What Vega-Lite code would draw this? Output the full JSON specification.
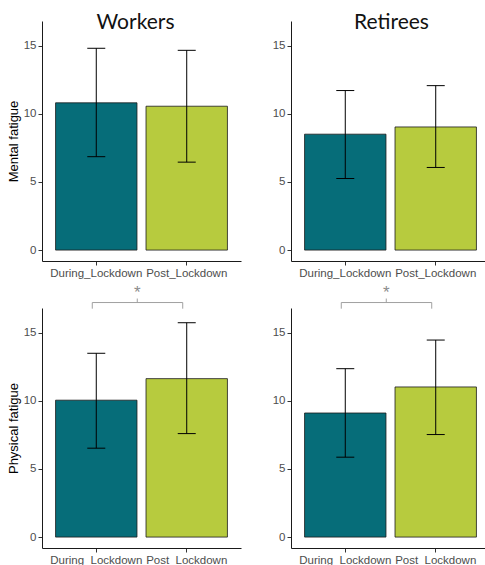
{
  "$schema": "https://vega.github.io/schema/vega-lite/v6.json",
  "padding": {"left": 7, "top": 12, "right": 0, "bottom": 0},
  "background": "white",
  "datasets": {
    "bars": [
      {"group": "Workers", "measure": "Mental", "phase": "During_Lockdown", "mean": 10.8, "lo": 6.85, "hi": 14.8},
      {"group": "Workers", "measure": "Mental", "phase": "Post_Lockdown", "mean": 10.55, "lo": 6.45, "hi": 14.65},
      {"group": "Retirees", "measure": "Mental", "phase": "During_Lockdown", "mean": 8.5, "lo": 5.25, "hi": 11.7},
      {"group": "Retirees", "measure": "Mental", "phase": "Post_Lockdown", "mean": 9.03, "lo": 6.06, "hi": 12.06},
      {"group": "Workers", "measure": "Physical", "phase": "During_Lockdown", "mean": 10.04, "lo": 6.52, "hi": 13.48},
      {"group": "Workers", "measure": "Physical", "phase": "Post_Lockdown", "mean": 11.62, "lo": 7.59, "hi": 15.72},
      {"group": "Retirees", "measure": "Physical", "phase": "During_Lockdown", "mean": 9.1, "lo": 5.86, "hi": 12.35},
      {"group": "Retirees", "measure": "Physical", "phase": "Post_Lockdown", "mean": 11.01, "lo": 7.52, "hi": 14.45}
    ],
    "sig": [
      {"group": "Workers", "measure": "Physical", "from": "During_Lockdown", "to": "Post_Lockdown", "level": 17.2, "base": 16.75, "label": "*"},
      {"group": "Retirees", "measure": "Physical", "from": "During_Lockdown", "to": "Post_Lockdown", "level": 17.2, "base": 16.75, "label": "*"}
    ]
  },
  "config": {
    "view": {"stroke": null},
    "font": "Liberation Sans",
    "axis": {
      "grid": false,
      "domainColor": "#1a1a1a",
      "domainWidth": 1,
      "tickColor": "#333333",
      "tickSize": 4,
      "labelColor": "#4d4d4d",
      "labelFont": "Liberation Sans",
      "labelFontSize": 11.5,
      "labelPadding": 2,
      "titleFont": "Liberation Sans",
      "titleFontSize": 13,
      "titleFontWeight": "normal",
      "titleColor": "#000000",
      "titlePadding": 3
    },
    "title": {"font": "Lato", "fontSize": 21, "fontWeight": "normal", "color": "#111111", "anchor": "middle", "baseline": "alphabetic", "offset": -12}
  },
  "columns": 2,
  "spacing": {"row": 47, "column": 50},
  "bounds": "flush",
  "concat": [
    {
      "width": 199, "height": 240,
      "title": {"text": "Workers", "dx": -6},
      "layer": [
        {
          "data": {"name": "bars"},
          "transform": [{"filter": "datum.group == 'Workers' && datum.measure == 'Mental'"}],
          "encoding": {
            "x": {"field": "phase", "type": "nominal", "scale": {"paddingInner": 0.1, "paddingOuter": 0.15}, "axis": {"title": null, "labelAngle": 0}},
            "y": {"type": "quantitative", "scale": {"domain": [-0.8, 16.8], "nice": false, "zero": false}, "axis": {"title": "Mental fatigue", "values": [0, 5, 10, 15]}}
          },
          "layer": [
            {"mark": {"type": "bar", "stroke": "#1a1a1a", "strokeWidth": 0.8}, "encoding": {"y": {"field": "mean", "type": "quantitative"}, "y2": {"datum": 0}, "color": {"field": "phase", "type": "nominal", "scale": {"domain": ["During_Lockdown", "Post_Lockdown"], "range": ["#066d79", "#b7cb3e"]}, "legend": null}}},
            {"mark": {"type": "rule", "color": "black", "strokeWidth": 1}, "encoding": {"y": {"field": "lo", "type": "quantitative"}, "y2": {"field": "hi"}}},
            {"mark": {"type": "tick", "color": "black", "size": 18, "thickness": 1, "opacity": 1}, "encoding": {"y": {"field": "lo", "type": "quantitative"}}},
            {"mark": {"type": "tick", "color": "black", "size": 18, "thickness": 1, "opacity": 1}, "encoding": {"y": {"field": "hi", "type": "quantitative"}}}
          ]
        }
      ]
    },
    {
      "width": 199, "height": 240,
      "title": {"text": "Retirees", "dx": 1},
      "layer": [
        {
          "data": {"name": "bars"},
          "transform": [{"filter": "datum.group == 'Retirees' && datum.measure == 'Mental'"}],
          "encoding": {
            "x": {"field": "phase", "type": "nominal", "scale": {"paddingInner": 0.1, "paddingOuter": 0.15}, "axis": {"title": null, "labelAngle": 0}},
            "y": {"type": "quantitative", "scale": {"domain": [-0.8, 16.8], "nice": false, "zero": false}, "axis": {"title": null, "values": [0, 5, 10, 15]}}
          },
          "layer": [
            {"mark": {"type": "bar", "stroke": "#1a1a1a", "strokeWidth": 0.8}, "encoding": {"y": {"field": "mean", "type": "quantitative"}, "y2": {"datum": 0}, "color": {"field": "phase", "type": "nominal", "scale": {"domain": ["During_Lockdown", "Post_Lockdown"], "range": ["#066d79", "#b7cb3e"]}, "legend": null}}},
            {"mark": {"type": "rule", "color": "black", "strokeWidth": 1}, "encoding": {"y": {"field": "lo", "type": "quantitative"}, "y2": {"field": "hi"}}},
            {"mark": {"type": "tick", "color": "black", "size": 18, "thickness": 1, "opacity": 1}, "encoding": {"y": {"field": "lo", "type": "quantitative"}}},
            {"mark": {"type": "tick", "color": "black", "size": 18, "thickness": 1, "opacity": 1}, "encoding": {"y": {"field": "hi", "type": "quantitative"}}}
          ]
        }
      ]
    },
    {
      "width": 199, "height": 240,
      "layer": [
        {
          "data": {"name": "bars"},
          "transform": [{"filter": "datum.group == 'Workers' && datum.measure == 'Physical'"}],
          "encoding": {
            "x": {"field": "phase", "type": "nominal", "scale": {"paddingInner": 0.1, "paddingOuter": 0.15}, "axis": {"title": null, "labelAngle": 0}},
            "y": {"type": "quantitative", "scale": {"domain": [-0.8, 16.8], "nice": false, "zero": false}, "axis": {"title": "Physical fatigue", "values": [0, 5, 10, 15]}}
          },
          "layer": [
            {"mark": {"type": "bar", "stroke": "#1a1a1a", "strokeWidth": 0.8}, "encoding": {"y": {"field": "mean", "type": "quantitative"}, "y2": {"datum": 0}, "color": {"field": "phase", "type": "nominal", "scale": {"domain": ["During_Lockdown", "Post_Lockdown"], "range": ["#066d79", "#b7cb3e"]}, "legend": null}}},
            {"mark": {"type": "rule", "color": "black", "strokeWidth": 1}, "encoding": {"y": {"field": "lo", "type": "quantitative"}, "y2": {"field": "hi"}}},
            {"mark": {"type": "tick", "color": "black", "size": 18, "thickness": 1, "opacity": 1}, "encoding": {"y": {"field": "lo", "type": "quantitative"}}},
            {"mark": {"type": "tick", "color": "black", "size": 18, "thickness": 1, "opacity": 1}, "encoding": {"y": {"field": "hi", "type": "quantitative"}}}
          ]
        },
        {
          "data": {"name": "sig"},
          "transform": [{"filter": "datum.group == 'Workers'"}],
          "layer": [
            {"mark": {"type": "rule", "color": "#a0a0a0", "strokeWidth": 1, "xOffset": -4}, "encoding": {"x": {"field": "from", "type": "nominal"}, "y": {"field": "level", "type": "quantitative"}, "y2": {"field": "base"}}},
            {"mark": {"type": "rule", "color": "#a0a0a0", "strokeWidth": 1, "xOffset": -4}, "encoding": {"x": {"field": "to", "type": "nominal"}, "y": {"field": "level", "type": "quantitative"}, "y2": {"field": "base"}}},
            {"mark": {"type": "rule", "color": "#a0a0a0", "strokeWidth": 1, "xOffset": -4, "x2Offset": -4}, "encoding": {"x": {"field": "from", "type": "nominal"}, "x2": {"field": "to"}, "y": {"field": "level", "type": "quantitative"}}},
            {"mark": {"type": "rule", "color": "#a0a0a0", "strokeWidth": 1, "xOffset": 41, "y2Offset": -4}, "encoding": {"x": {"field": "from", "type": "nominal"}, "y": {"field": "level", "type": "quantitative"}, "y2": {"field": "level"}}},
            {"mark": {"type": "text", "color": "#8c8c8c", "fontSize": 17, "font": "Liberation Sans", "xOffset": 41, "baseline": "alphabetic", "dy": 3}, "encoding": {"x": {"field": "from", "type": "nominal"}, "y": {"field": "level", "type": "quantitative"}, "text": {"field": "label"}, "yOffset": {"value": -8}}}
          ]
        }
      ]
    },
    {
      "width": 199, "height": 240,
      "layer": [
        {
          "data": {"name": "bars"},
          "transform": [{"filter": "datum.group == 'Retirees' && datum.measure == 'Physical'"}],
          "encoding": {
            "x": {"field": "phase", "type": "nominal", "scale": {"paddingInner": 0.1, "paddingOuter": 0.15}, "axis": {"title": null, "labelAngle": 0}},
            "y": {"type": "quantitative", "scale": {"domain": [-0.8, 16.8], "nice": false, "zero": false}, "axis": {"title": null, "values": [0, 5, 10, 15]}}
          },
          "layer": [
            {"mark": {"type": "bar", "stroke": "#1a1a1a", "strokeWidth": 0.8}, "encoding": {"y": {"field": "mean", "type": "quantitative"}, "y2": {"datum": 0}, "color": {"field": "phase", "type": "nominal", "scale": {"domain": ["During_Lockdown", "Post_Lockdown"], "range": ["#066d79", "#b7cb3e"]}, "legend": null}}},
            {"mark": {"type": "rule", "color": "black", "strokeWidth": 1}, "encoding": {"y": {"field": "lo", "type": "quantitative"}, "y2": {"field": "hi"}}},
            {"mark": {"type": "tick", "color": "black", "size": 18, "thickness": 1, "opacity": 1}, "encoding": {"y": {"field": "lo", "type": "quantitative"}}},
            {"mark": {"type": "tick", "color": "black", "size": 18, "thickness": 1, "opacity": 1}, "encoding": {"y": {"field": "hi", "type": "quantitative"}}}
          ]
        },
        {
          "data": {"name": "sig"},
          "transform": [{"filter": "datum.group == 'Retirees'"}],
          "layer": [
            {"mark": {"type": "rule", "color": "#a0a0a0", "strokeWidth": 1, "xOffset": -4}, "encoding": {"x": {"field": "from", "type": "nominal"}, "y": {"field": "level", "type": "quantitative"}, "y2": {"field": "base"}}},
            {"mark": {"type": "rule", "color": "#a0a0a0", "strokeWidth": 1, "xOffset": -4}, "encoding": {"x": {"field": "to", "type": "nominal"}, "y": {"field": "level", "type": "quantitative"}, "y2": {"field": "base"}}},
            {"mark": {"type": "rule", "color": "#a0a0a0", "strokeWidth": 1, "xOffset": -4, "x2Offset": -4}, "encoding": {"x": {"field": "from", "type": "nominal"}, "x2": {"field": "to"}, "y": {"field": "level", "type": "quantitative"}}},
            {"mark": {"type": "rule", "color": "#a0a0a0", "strokeWidth": 1, "xOffset": 41, "y2Offset": -4}, "encoding": {"x": {"field": "from", "type": "nominal"}, "y": {"field": "level", "type": "quantitative"}, "y2": {"field": "level"}}},
            {"mark": {"type": "text", "color": "#8c8c8c", "fontSize": 17, "font": "Liberation Sans", "xOffset": 41, "baseline": "alphabetic", "dy": 3}, "encoding": {"x": {"field": "from", "type": "nominal"}, "y": {"field": "level", "type": "quantitative"}, "text": {"field": "label"}, "yOffset": {"value": -8}}}
          ]
        }
      ]
    }
  ]
}
